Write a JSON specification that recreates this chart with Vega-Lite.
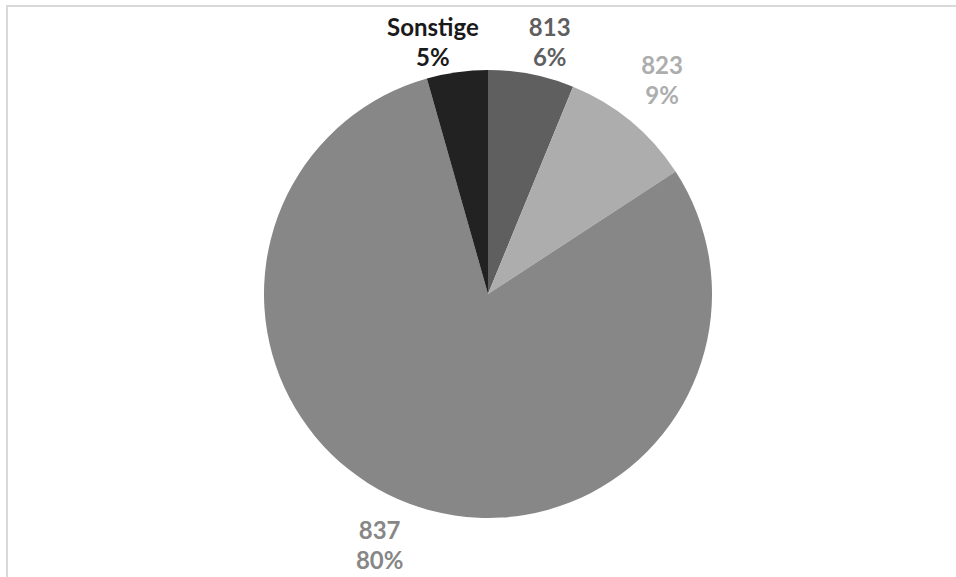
{
  "$schema": "https://vega.github.io/schema/vega-lite/v6.json",
  "width": 962,
  "height": 576,
  "autosize": {"type": "none"},
  "padding": {"left": 7, "top": 6, "right": 0, "bottom": 0},
  "background": "white",
  "view": {"stroke": "#d9d9d9", "strokeWidth": 2},
  "data": {"values": [
    {"name": "813", "pct": 6.2, "label": "813\n6%", "order": 1},
    {"name": "823", "pct": 9.6, "label": "823\n9%", "order": 2},
    {"name": "837", "pct": 79.8, "label": "837\n80%", "order": 3},
    {"name": "Sonstige", "pct": 4.4, "label": "Sonstige\n5%", "order": 4}
  ]},
  "encoding": {
    "theta": {"field": "pct", "type": "quantitative", "stack": true},
    "order": {"field": "order", "type": "quantitative", "sort": "ascending"}
  },
  "layer": [
    {
      "mark": {"type": "arc", "outerRadius": 224},
      "encoding": {
        "color": {"field": "name", "type": "nominal", "legend": null,
          "scale": {"domain": ["813", "823", "837", "Sonstige"], "range": ["#5f5f5f", "#adadad", "#878787", "#222222"]}}
      }
    },
    {
      "mark": {"type": "text", "radius": 257, "dx": 12, "dy": -13, "font": "Lato", "fontWeight": "bold", "fontSize": 24, "lineHeight": 30, "lineBreak": "\n", "color": "#5f5f5f", "align": "center", "baseline": "middle"},
      "encoding": {"text": {"field": "label"}, "opacity": {"condition": {"test": "datum.name == '813'", "value": 1}, "value": 0}}
    },
    {
      "mark": {"type": "text", "radius": 273, "dx": 0, "dy": -17, "font": "Lato", "fontWeight": "bold", "fontSize": 24, "lineHeight": 30, "lineBreak": "\n", "color": "#adadad", "align": "center", "baseline": "middle"},
      "encoding": {"text": {"field": "label"}, "opacity": {"condition": {"test": "datum.name == '823'", "value": 1}, "value": 0}}
    },
    {
      "mark": {"type": "text", "radius": 272, "dx": -13, "dy": -17, "font": "Lato", "fontWeight": "bold", "fontSize": 24, "lineHeight": 30, "lineBreak": "\n", "color": "#878787", "align": "center", "baseline": "middle"},
      "encoding": {"text": {"field": "label"}, "opacity": {"condition": {"test": "datum.name == '837'", "value": 1}, "value": 0}}
    },
    {
      "mark": {"type": "text", "radius": 255, "dx": -20, "dy": -12, "font": "Lato", "fontWeight": "bold", "fontSize": 24, "lineHeight": 30, "lineBreak": "\n", "color": "#1a1a1a", "align": "center", "baseline": "middle"},
      "encoding": {"text": {"field": "label"}, "opacity": {"condition": {"test": "datum.name == 'Sonstige'", "value": 1}, "value": 0}}
    }
  ]
}
